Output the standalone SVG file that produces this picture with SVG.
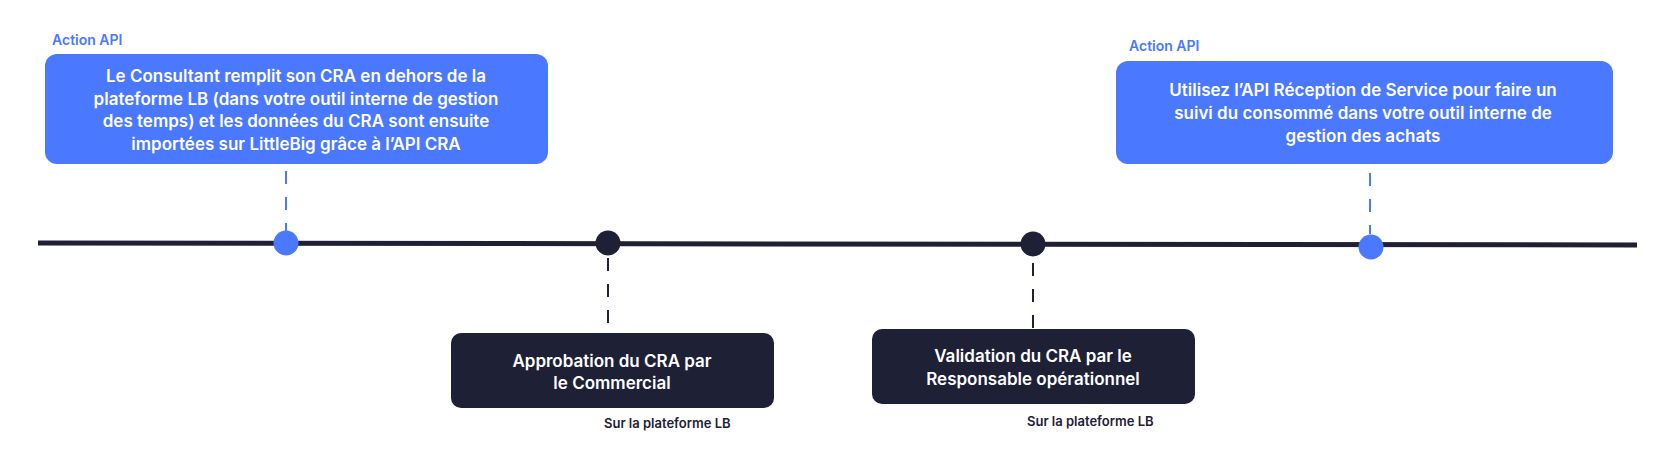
<svg xmlns="http://www.w3.org/2000/svg" width="1679" height="453" viewBox="0 0 1679 453">
<style>
text{font-family:Inter,"Noto Sans","Liberation Sans",sans-serif;font-weight:600}
.bt{fill:#fff;font-size:17px;text-anchor:middle}
.api{fill:#4a78ff;font-size:14px}
.sur{fill:#1e2036;font-size:13px}
.blue{fill:#4a78ff}
.dark{fill:#1e2036}
.dl{stroke-width:2;stroke-dasharray:13 13;fill:none}
</style>
<rect width="1679" height="453" fill="#fff"/>
<g id="connectors">
<line x1="38" y1="243" x2="1637" y2="245" stroke="#1e2036" stroke-width="5"/>
<line class="dl" x1="286" y1="171" x2="286" y2="232" stroke="#4a78ff"/>
<line class="dl" x1="608" y1="258" x2="608" y2="333" stroke="#1e2036"/>
<line class="dl" x1="1033" y1="263" x2="1033" y2="329" stroke="#1e2036"/>
<line class="dl" x1="1370" y1="173" x2="1370" y2="234" stroke="#4a78ff"/>
</g>
<g id="dot1"><circle class="blue" cx="286" cy="243" r="12.5"/></g>
<g id="dot2"><circle class="dark" cx="608" cy="243" r="12.5"/></g>
<g id="dot3"><circle class="dark" cx="1033" cy="244" r="12.5"/></g>
<g id="dot4"><circle class="blue" cx="1371" cy="247" r="12.5"/></g>
<g id="node1">
<text class="api" x="52" y="45">Action API</text>
<rect class="blue" x="45" y="54" width="503" height="110" rx="12"/>
<text class="bt" x="296" y="82">Le Consultant remplit son CRA en dehors de la</text>
<text class="bt" x="296" y="104.5">plateforme LB (dans votre outil interne de gestion</text>
<text class="bt" x="296" y="127">des temps) et les données du CRA sont ensuite</text>
<text class="bt" x="296" y="150">importées sur LittleBig grâce à l’API CRA</text>
</g>
<g id="node2">
<rect class="dark" x="451" y="333" width="323" height="75" rx="10"/>
<text class="bt" x="612" y="367">Approbation du CRA par</text>
<text class="bt" x="612" y="389">le Commercial</text>
<text class="sur" x="604" y="428">Sur la plateforme LB</text>
</g>
<g id="node3">
<rect class="dark" x="872" y="329" width="323" height="75" rx="10"/>
<text class="bt" x="1033" y="362">Validation du CRA par le</text>
<text class="bt" x="1033" y="385">Responsable opérationnel</text>
<text class="sur" x="1027" y="426">Sur la plateforme LB</text>
</g>
<g id="node4">
<text class="api" x="1129" y="51">Action API</text>
<rect class="blue" x="1116" y="61" width="497" height="103" rx="12"/>
<text class="bt" x="1363" y="96">Utilisez l’API Réception de Service pour faire un</text>
<text class="bt" x="1363" y="119">suivi du consommé dans votre outil interne de</text>
<text class="bt" x="1363" y="142">gestion des achats</text>
</g>
</svg>
